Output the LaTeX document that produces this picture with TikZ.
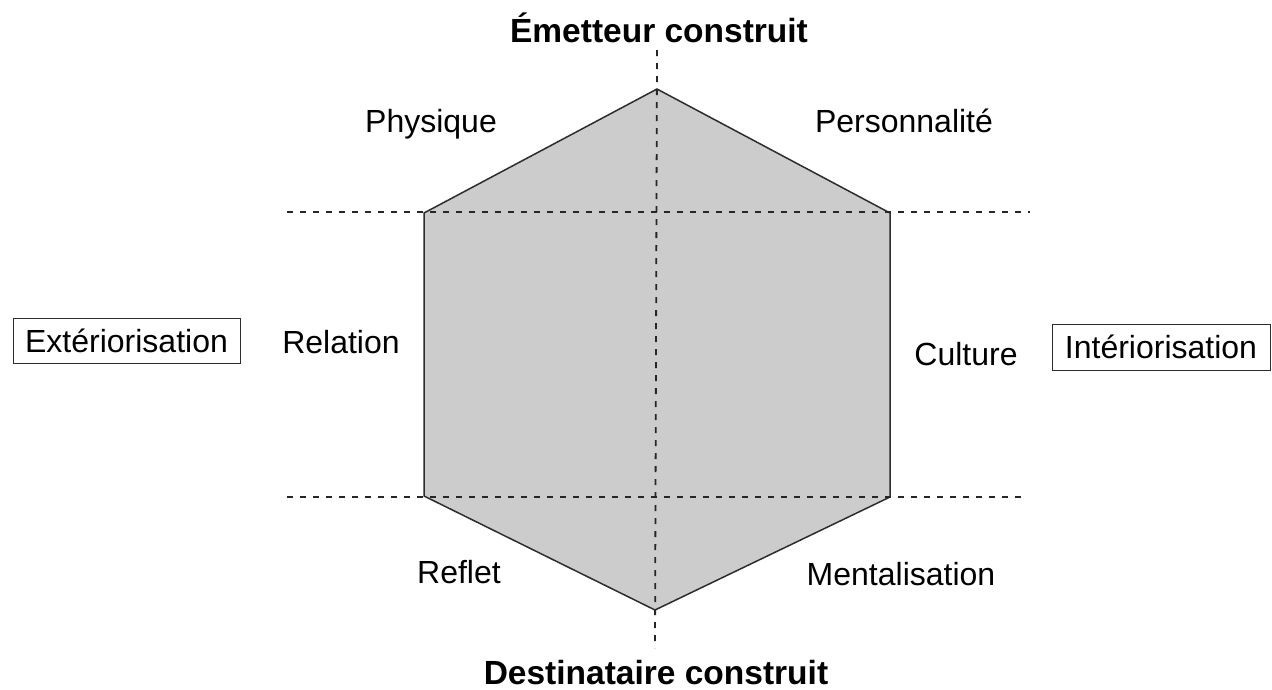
\documentclass[tikz,border=0pt]{standalone}
\usepackage{fontspec}
\setmainfont{Liberation Sans}
\definecolor{hexfill}{RGB}{204,204,204}
\definecolor{edgecol}{RGB}{45,45,45}
\begin{document}
\begin{tikzpicture}[x=1pt,y=-1pt,
  lbl/.style={anchor=base,inner sep=0pt,font=\fontsize{32}{38}\selectfont},
  ttl/.style={anchor=base,inner sep=0pt,font=\fontsize{33.5}{40}\selectfont\bfseries},
  boxlbl/.style={draw=edgecol,line width=1pt,inner sep=0pt,font=\fontsize{32}{38}\selectfont},
  hexedge/.style={draw=edgecol,line width=1.5pt,line join=miter},
  axis/.style={draw=black!85,line width=1.8pt,dash pattern=on 6pt off 7pt}]
\useasboundingbox (0,0) rectangle (1272,689);
\fill[white] (0,0) rectangle (1272,689);
% hexagon vertices
\coordinate (T) at (657,89);
\coordinate (TR) at (890,213);
\coordinate (BR) at (890,497);
\coordinate (B) at (655,610);
\coordinate (BL) at (424,496);
\coordinate (TL) at (424,213);
\fill[hexfill] (T) -- (TR) -- (BR) -- (B) -- (BL) -- (TL) -- cycle;
\draw[hexedge] (T) -- (TR) -- (BR) -- (B) -- (BL) -- (TL) -- cycle;
% dashed axes
\coordinate (vtop) at (657,50);
\coordinate (vbot) at (655,648);
\coordinate (h1l) at (287,212);
\coordinate (h1r) at (1030,212);
\coordinate (h2l) at (287,497);
\coordinate (h2r) at (1028,497);
\draw[axis] (vtop) -- (vbot);
\draw[axis] (h1l) -- (h1r);
\draw[axis] (h2l) -- (h2r);
% titles
\node[ttl] (emet) at (659,42) {Émetteur construit};
\node[ttl] (dest) at (656,684) {Destinataire construit};
% labels
\node[lbl] (phys) at (431,132) {Physique};
\node[lbl] (pers) at (904,132) {Personnalité};
\node[lbl] (rel) at (341,353) {Relation};
\node[lbl] (cult) at (966,365) {Culture};
\node[lbl] (refl) at (459,583) {Reflet};
\node[lbl] (ment) at (901,585) {Mentalisation};
% boxed labels
\node[boxlbl,minimum width=227pt,minimum height=45pt] (ext) at (126.5,340.5) {Extériorisation};
\node[boxlbl,minimum width=218pt,minimum height=46pt] (int) at (1161,347) {Intériorisation};
\end{tikzpicture}
\end{document}
